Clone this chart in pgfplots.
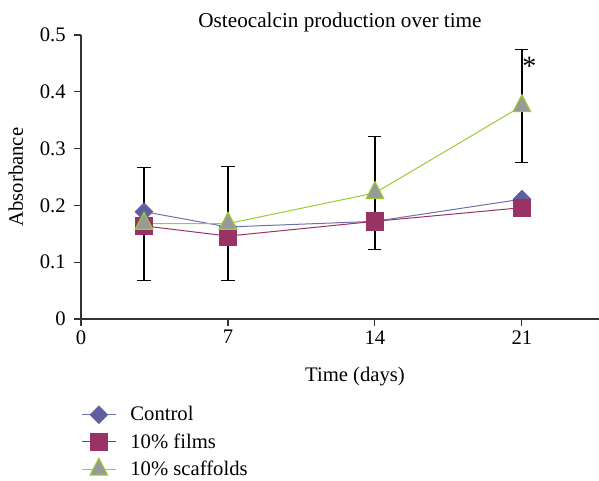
\documentclass[border=0pt]{standalone}
\usepackage{fontspec}
\setmainfont{Liberation Serif}
\usepackage{pgfplots}
\pgfplotsset{compat=1.18}
\definecolor{ctrl}{HTML}{5F5FA0}
\definecolor{ctrlline}{HTML}{7070AC}
\definecolor{films}{HTML}{993366}
\definecolor{scaf}{HTML}{99CC33}
\definecolor{scaffill}{HTML}{999999}
\definecolor{axc}{HTML}{333333}
\newcommand{\fs}{\fontsize{15.5}{18}\selectfont}
\begin{document}
\begin{tikzpicture}
\useasboundingbox (-60.75pt,-120.75pt) rectangle (388.5pt,239.25pt);
\begin{axis}[
  at={(0pt,0pt)}, anchor=south west,
  scale only axis, width=388.5pt, height=213pt,
  xmin=0, xmax=24.67, ymin=0, ymax=0.5,
  axis x line=bottom, axis y line=left,
  axis line style={-, draw=axc, line width=0.8pt},
  xtick={0,7,14,21}, ytick={0,0.1,0.2,0.3,0.4,0.5},
  yticklabel style={/pgf/number format/fixed, /pgf/number format/precision=1, xshift=-3pt},
  /pgf/number format/assume math mode=true,
  tick align=outside, major tick length=5pt,
  tick style={draw=axc, line width=0.8pt},
  ticklabel style={font=\fs},
  title={Osteocalcin production over time},
  title style={font=\fontsize{15.9}{18}\selectfont, at={(axis description cs:0.5,1)}, anchor=base, yshift=0pt},
  xlabel={Time (days)},
  xlabel style={font=\fs, at={(axis description cs:0.529,0)}, anchor=base, yshift=-46.5pt},
  ylabel={Absorbance},
  ylabel style={font=\fs, at={(axis description cs:-0.112,0.5)}, anchor=base},
  clip=false,
  legend style={draw=none, fill=none, font=\fs, at={(axis description cs:0,-0.298)}, anchor=north west, row sep=4pt, column sep=4.5pt, inner sep=0pt, nodes={inner xsep=6pt}},
  legend cell align=left,
  legend image code/.code={\draw[mark repeat=2,mark phase=2] plot coordinates {(0cm,0cm) (0.45cm,0cm) (0.9cm,0cm)};},
]
% error bars (scaffolds), drawn first so markers sit on top
\addplot[forget plot, only marks, mark=none, black,
  error bars/.cd, y dir=both, y explicit,
  error bar style={black, line width=0.9pt},
  error mark options={rotate=90, mark size=4.9pt, black, line width=0.9pt}]
  coordinates {(3,0.167) +- (0,0.0995) (7,0.168) +- (0,0.1) (14,0.222) +- (0,0.1) (21,0.375) +- (0,0.1)};
\addplot[color=ctrlline, line width=0.75pt, mark=square*, mark size=4.8pt,
  mark options={rotate=45, fill=ctrl, draw=ctrl, line width=0.3pt}]
  coordinates {(3,0.189) (7,0.162) (14,0.172) (21,0.211)};
\addlegendentry{Control}
\addplot[color=films, line width=0.75pt, mark=square*, mark size=6.5pt,
  mark options={fill=films, draw=films, line width=0.3pt}]
  coordinates {(3,0.164) (7,0.146) (14,0.172) (21,0.196)};
\addlegendentry{10\% films}
\addplot[color=scaf, line width=0.75pt, mark=triangle*, mark size=7.6pt,
  mark options={fill=scaffill, draw=scaf, line width=0.8pt, yscale=1.12}]
  coordinates {(3,0.168) (7,0.168) (14,0.222) (21,0.375)};
\addlegendentry{10\% scaffolds}
\node[font=\fontsize{21}{24}\selectfont, anchor=center] at (axis cs:21.35,0.445) {*};
\end{axis}
\end{tikzpicture}
\end{document}
